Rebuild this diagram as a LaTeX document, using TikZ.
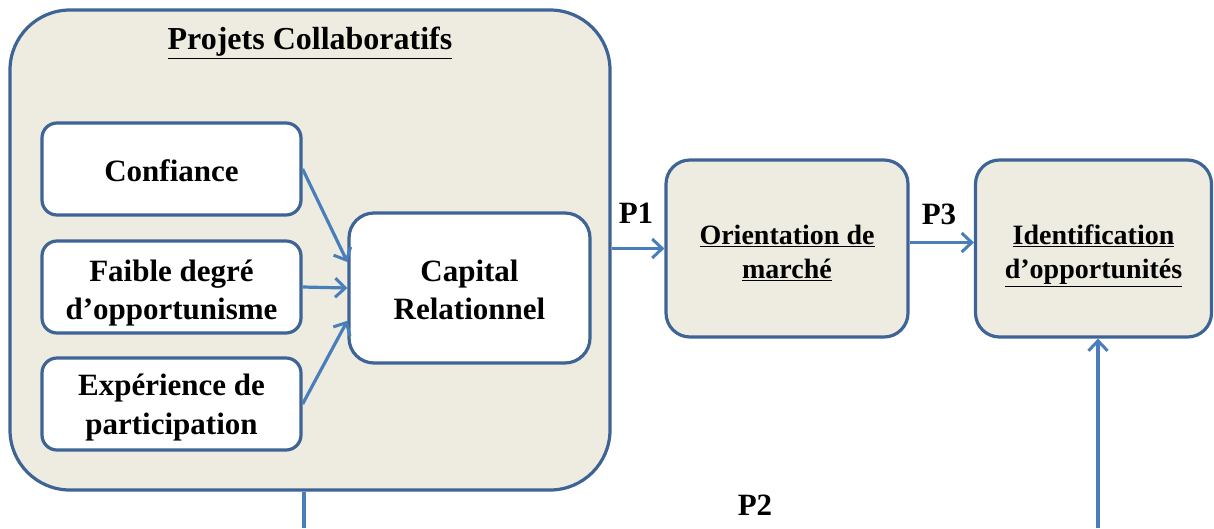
\documentclass[tikz,border=0pt]{standalone}
\usepackage{fontspec}
\setmainfont{Liberation Serif}
\usetikzlibrary{arrows.meta,calc}
\definecolor{bordc}{HTML}{3E6496}
\definecolor{arrc}{HTML}{4A7EBB}
\definecolor{tanc}{HTML}{EEECE1}
\tikzset{
  box/.style={draw=bordc, line width=3.2pt, rounded corners=15pt, fill=white, inner sep=0pt},
  tanbox/.style={draw=bordc, line width=3.2pt, rounded corners=24pt, fill=tanc, inner sep=0pt},
  bigtxt/.style={inner sep=0pt, align=center, font=\bfseries\fontsize{31}{38}\selectfont},
  midtxt/.style={inner sep=0pt, align=center, font=\bfseries\fontsize{28}{34}\selectfont},
  conn/.style={draw=arrc, line width=3.2pt, -{Straight Barb[length=10pt,width=19pt,line width=3pt]}},
  plainline/.style={draw=arrc, line width=3.2pt},
  lbl/.style={inner sep=0pt, font=\bfseries\fontsize{31}{37}\selectfont},
}
\begin{document}
\begin{tikzpicture}[x=1pt,y=-1pt]
\useasboundingbox (0,0) rectangle (1214,528);
\node[draw=bordc, line width=3.2pt, rounded corners=60pt, fill=tanc, minimum width=600pt, minimum height=480pt, inner sep=0pt] (big) at (310,250) {};
\node[lbl, font=\bfseries\fontsize{32}{38}\selectfont] (title) at (310,43) {\underline{Projets Collaboratifs}};
\node[box, minimum width=259pt, minimum height=92pt,
  label={[bigtxt, yshift=-2pt]center:Confiance}] (conf) at (171.5,169) {};
\node[box, minimum width=259pt, minimum height=92pt,
  label={[bigtxt, yshift=-6pt]center:{Faible degré\\d’opportunisme}}] (faib) at (171.5,287) {};
\node[box, minimum width=259pt, minimum height=92pt,
  label={[bigtxt, yshift=-4pt, font=\bfseries\fontsize{31}{39}\selectfont]center:{Expérience de\\participation}}] (expe) at (171.5,404) {};
\node[box, rounded corners=25pt, minimum width=241pt, minimum height=150pt,
  label={[bigtxt, yshift=-2pt]center:{Capital\\Relationnel}}] (cap) at (469.5,288) {};
\node[tanbox, minimum width=242pt, minimum height=177pt,
  label={[midtxt, yshift=-4pt]center:{\underline{Orientation de}\\\underline{marché}}}] (orient) at (787,248.5) {};
\node[tanbox, minimum width=236pt, minimum height=177pt,
  label={[midtxt, yshift=-7pt]center:{\underline{Identification}\\\underline{d’opportunités}}}] (ident) at (1093.5,248.5) {};
\draw[conn] (conf.east) -- (cap.168);
\draw[conn] (faib.east) -- (cap.west);
\draw[conn] (expe.east) -- (cap.195);
\draw[conn] (orient.west -| big.east) -- (orient.west);
\coordinate (p3s) at ($(orient.east)+(0,-6)$);
\draw[conn] (p3s) -- (p3s -| ident.west);
\coordinate (bl) at (304,528);
\draw[plainline] (bl |- big.south) -- (bl);
\coordinate (br) at (1098,528);
\draw[conn] (br) -- (br |- ident.south);
\node[lbl] (p1) at (636,213) {P1};
\node[lbl] (p3) at (939,214) {P3};
\node[lbl] (p2) at (755,505) {P2};
\end{tikzpicture}
\end{document}
